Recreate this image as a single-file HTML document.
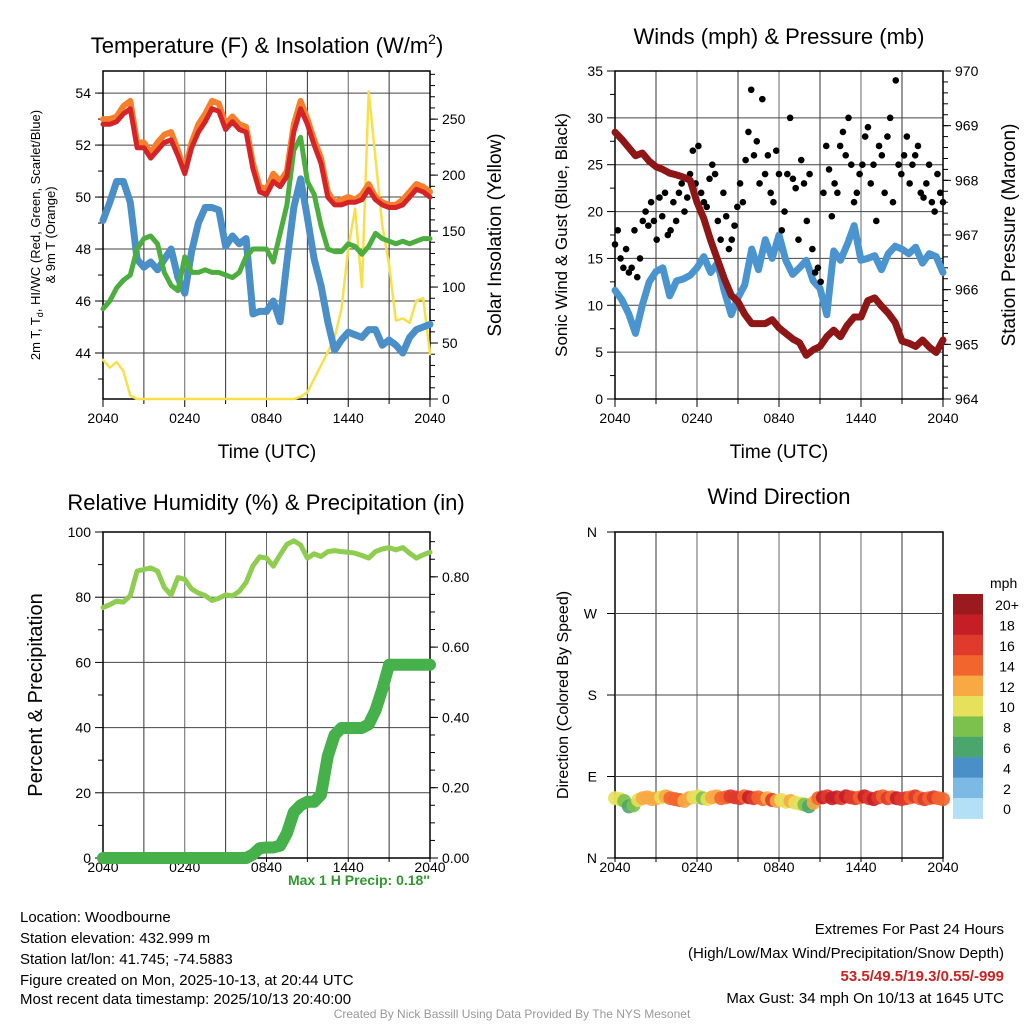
<!DOCTYPE html>
<html><head><meta charset="utf-8">
<style>
html,body{margin:0;padding:0;background:#fff;}
svg{display:block;font-family:"Liberation Sans",Arial,sans-serif;}
</style></head>
<body>
<svg id="c" width="1024" height="1024" viewBox="0 0 1024 1024" xmlns="http://www.w3.org/2000/svg">
<rect width="1024" height="1024" fill="#fff"/>
<text x="267" y="53" font-size="22" text-anchor="middle">Temperature (F) &amp; Insolation (W/m<tspan dy="-9" font-size="14">2</tspan><tspan dy="9">)</tspan></text>
<text x="779" y="44" font-size="22" text-anchor="middle">Winds (mph) &amp; Pressure (mb)</text>
<text x="266" y="510" font-size="22" text-anchor="middle">Relative Humidity (%) &amp; Precipitation (in)</text>
<text x="779" y="504" font-size="22" text-anchor="middle">Wind Direction</text>

<text transform="translate(40,235) rotate(-90)" font-size="13" text-anchor="middle">2m T, T<tspan dy="3" font-size="9">d</tspan><tspan dy="-3">, HI/WC (Red, Green, Scarlet/Blue)</tspan></text>
<text transform="translate(55,235) rotate(-90)" font-size="13" text-anchor="middle">&amp; 9m T (Orange)</text>
<text transform="translate(501,235) rotate(-90)" font-size="19" text-anchor="middle">Solar Insolation (Yellow)</text>
<text transform="translate(567,235) rotate(-90)" font-size="17" text-anchor="middle">Sonic Wind &amp; Gust (Blue, Black)</text>
<text transform="translate(1015,235) rotate(-90)" font-size="19" text-anchor="middle">Station Pressure (Maroon)</text>
<text transform="translate(42,695) rotate(-90)" font-size="20" text-anchor="middle">Percent &amp; Precipitation</text>
<text transform="translate(568,695) rotate(-90)" font-size="16" text-anchor="middle">Direction (Colored By Speed)</text>
<text x="267" y="458" font-size="19" text-anchor="middle">Time (UTC)</text>
<text x="779" y="458" font-size="19" text-anchor="middle">Time (UTC)</text>

<text x="430" y="885" font-size="14" font-weight="bold" fill="#2e9a2e" text-anchor="end">Max 1 H Precip: 0.18''</text>
<g font-size="15">
<text x="20" y="922">Location: Woodbourne</text>
<text x="20" y="943">Station elevation: 432.999 m</text>
<text x="20" y="964">Station lat/lon: 41.745; -74.5883</text>
<text x="20" y="985">Figure created on Mon, 2025-10-13, at 20:44 UTC</text>
<text x="20" y="1004">Most recent data timestamp: 2025/10/13 20:40:00</text>
</g>
<g font-size="15" text-anchor="end">
<text x="1004" y="934">Extremes For Past 24 Hours</text>
<text x="1004" y="958">(High/Low/Max Wind/Precipitation/Snow Depth)</text>
<text x="1004" y="981" font-weight="bold" fill="#cc2222">53.5/49.5/19.3/0.55/-999</text>
<text x="1004" y="1003">Max Gust: 34 mph On 10/13 at 1645 UTC</text>
</g>
<text x="512" y="1018" font-size="12" fill="#999" text-anchor="middle">Created By Nick Bassill Using Data Provided By The NYS Mesonet</text>
<g id="layer"></g>
</svg>
<script>
// ---- data ----
const timeLabels = ["2040","0240","0840","1440","2040"];
const tempRed = [52.8,52.8,52.9,53.2,53.4,51.9,51.9,51.5,51.8,52.1,52.2,51.6,50.9,51.9,52.5,52.9,53.4,53.3,52.6,52.9,52.6,52.5,51.1,50.2,50.1,50.6,50.4,50.8,52.5,53.4,52.8,52.0,51.3,50.0,49.7,49.7,49.8,49.8,49.9,50.3,49.9,49.7,49.6,49.6,49.7,50.0,50.3,50.2,50.0];
const tempOrange = [53.0,53.0,53.1,53.5,53.7,52.1,52.1,51.7,52.1,52.4,52.5,51.8,51.0,52.1,52.8,53.2,53.7,53.6,52.8,53.1,52.8,52.7,51.3,50.4,50.3,50.9,50.6,51.0,52.8,53.7,53.0,52.2,51.5,50.2,49.8,49.9,50.0,49.9,50.1,50.5,50.0,49.8,49.7,49.7,49.9,50.2,50.5,50.4,50.2];
const tempGreen = [45.7,46.0,46.5,46.8,47.0,48.0,48.4,48.5,48.2,47.1,46.6,46.4,47.7,47.1,47.1,47.2,47.1,47.1,47.0,46.9,47.1,47.7,48.0,48.0,48.0,47.5,48.6,49.7,51.8,52.3,50.6,50.1,48.9,48.0,47.9,47.9,48.2,48.1,47.8,48.1,48.6,48.4,48.3,48.2,48.3,48.2,48.3,48.4,48.4];
const tempBlue = [49.1,49.8,50.6,50.6,49.8,47.6,47.3,47.5,47.2,47.6,48.0,46.9,46.3,47.9,49.0,49.6,49.6,49.5,48.1,48.5,48.2,48.4,45.5,45.6,45.6,46.0,45.2,47.5,49.6,50.7,49.2,47.6,46.6,45.2,44.1,44.5,44.8,44.7,44.6,44.9,44.9,44.3,44.5,44.3,44.0,44.6,44.9,45.0,45.1];
const solar = [35,28,33,25,3,0,0,0,0,0,0,0,0,0,0,0,0,0,0,0,0,0,0,0,0,0,0,0,0,2,6,18,30,42,55,80,135,170,100,275,215,155,120,70,72,68,88,90,40];
const windSpeed = [11.6,10.6,9.1,7.0,10.0,12.5,13.6,14.0,11.0,12.6,12.8,13.2,14.0,15.2,13.5,14.5,11.5,9.0,10.8,12.2,16.0,13.8,17.0,15.0,17.5,14.8,13.3,14.0,14.8,12.6,11.8,9.0,15.8,14.8,16.5,18.5,14.8,15.0,15.3,13.8,15.5,16.3,16.0,15.5,16.2,14.5,15.5,15.2,13.5];
const windGust = [16.5,18,15,14,16,13.5,14,18,13,15,19,20,18.5,21,19,17,21.5,19.5,22,17.5,18,21,19,22,23,20,21.5,24,26.5,23,27,22,21,20.5,23.5,25,24,19,17,22,19.5,16,17,18.5,20.5,23,21,25.5,28.5,33,26,27.5,23,32,24,26,22,21,26.5,24,18,20,24,30,23.5,22.5,17,25.5,23,19,24,16,13.5,14,12.5,22,27,24.5,19.5,23,22,27,28.5,26,30,25,21,22,24,25,28,29,23,25,19,27,26,22,28,30,21,34,25,24,26,28,23,25,26,27,22,21.5,23,25,21,20,24,22,21];
const pressure = [968.88,968.75,968.6,968.45,968.5,968.35,968.25,968.2,968.13,968.1,968.06,968.0,967.6,967.3,966.9,966.55,966.2,965.9,965.78,965.55,965.38,965.38,965.38,965.45,965.3,965.2,965.1,965.03,964.8,964.9,964.96,965.14,965.26,965.14,965.35,965.5,965.5,965.8,965.85,965.7,965.57,965.4,965.06,965.02,964.96,965.08,964.95,964.85,965.08];
const humidity = [76.8,77.7,78.8,78.5,80.5,88.0,88.5,89.0,88.0,83.0,80.7,86.0,85.5,82.5,81.3,80.5,79.0,79.7,80.7,80.4,81.8,84.5,89.6,92.4,92.0,89.5,93.0,96.2,97.3,96.0,92.0,93.3,92.5,94.0,94.3,94.0,93.8,93.5,92.8,92.0,94.0,94.8,95.2,94.5,95.2,93.5,92.0,93.0,93.8];
const precip = [0,0,0,0,0,0,0,0,0,0,0,0,0,0,0,0,0,0,0,0,0,0,0.01,0.028,0.03,0.03,0.035,0.07,0.13,0.15,0.16,0.16,0.18,0.29,0.35,0.37,0.37,0.37,0.37,0.38,0.42,0.48,0.55,0.55,0.55,0.55,0.55,0.55,0.55];
const windDir = [66,65,63,57,58,64,66,67,65,66,67,68,66,65,64,63,66,67,68,66,65,67,68,66,67,68,67,66,68,67,66,67,65,66,64,63,64,62,63,61,60,59,57,61,66,67,68,66,67,66,68,67,66,67,68,66,65,67,68,66,67,66,65,66,67,68,66,65,66,67,66,65];
const dirSpeed = [11,10,9,7,8,11,12,13,12,12,11,13,14,15,14,12,13,11,10,9,10,12,13,14,15,16,17,16,15,18,16,14,15,13,16,12,11,10,12,11,10,9,7,12,15,18,17,19,18,17,19,16,17,15,18,16,19,17,15,16,14,18,16,17,15,16,14,17,15,16,14,15];
const tempTicks = [44,46,48,50,52,54];
const solarTicks = [0,50,100,150,200,250];
const windTicks = [0,5,10,15,20,25,30,35];
const presTicks = [964,965,966,967,968,969,970];
const rhTicks = [0,20,40,60,80,100];
const prTicks = [0,0.2,0.4,0.6,0.8];
const dirTicks = [0,90,180,270,360];
const dirLabels = ["N","E","S","W","N"];
const speedBins = [0,2,4,6,8,10,12,14,16,18,20];
const speedBinLabels = ["0","2","4","6","8","10","12","14","16","18","20+"];
const speedColors = ["#b3e0f7","#7cb9e4","#4a8fc7","#4aa66c","#7dc14d","#e6e05a","#f8a943","#f2652d","#e03a2c","#c41f27","#9a1a1e"];

// ---- helpers ----
const NS = "http://www.w3.org/2000/svg";
const layer = document.getElementById("layer");
function mk(tag, attrs, parent) {
  const e = document.createElementNS(NS, tag);
  for (const k in attrs) e.setAttribute(k, attrs[k]);
  (parent || layer).appendChild(e);
  return e;
}
function lin(d0, d1, r0, r1) { return v => r0 + (v - d0) / (d1 - d0) * (r1 - r0); }

function panel(name, L, R, T, B, labDy, yLeft, leftTicks, leftMinor, leftFmt, yRight, rightTicks, rightMinor, rightFmt) {
  const g = mk("g", {});
  
  
  for (let k = 0; k <= 8; k++) {
    const x = L + k * (R - L) / 8;
    const ln = mk("line", {x1: x, x2: x, y1: T, y2: B, stroke: k % 2 ? "#333" : "#666", "stroke-width": 1}, g);
    
    
    const tk = mk("line", {x1: x, x2: x, y1: B, y2: B + (labDy > 20 ? (k % 2 ? 5 : 8) : 4), stroke: "#000"}, g);
    
    
  }
  for (let k = 0; k < timeLabels.length; k++) {
    const t = mk("text", {x: L + k * (R - L) / 4, y: B + labDy, "font-size": 14, "text-anchor": "middle"}, g);
    t.textContent = timeLabels[k];
    
    
  }
  leftTicks.forEach(v => {
    const y = yLeft(v);
    if (y > T + 1 && y < B - 1) {
      const gl = mk("line", {x1: L, x2: R, y1: y, y2: y, stroke: "#444"}, g);
      
      
    }
    mk("line", {x1: L - 8, x2: L, y1: y, y2: y, stroke: "#000"}, g);
    const t = mk("text", {x: L - 12, y: y + 5, "font-size": 14, "text-anchor": "end"}, g);
    t.textContent = leftFmt(v);
    
    
  });
  leftMinor.forEach(v => { const y = yLeft(v); if (y >= T && y <= B) mk("line", {x1: L - 5, x2: L, y1: y, y2: y, stroke: "#000"}, g); });
  if (yRight) {
    rightTicks.forEach(v => {
      const y = yRight(v);
      mk("line", {x1: R, x2: R + 8, y1: y, y2: y, stroke: "#000"}, g);
      const t = mk("text", {x: R + 12, y: y + 5, "font-size": 14}, g);
      t.textContent = rightFmt(v);
      
      
    });
    rightMinor.forEach(v => { const y = yRight(v); if (y >= T && y <= B) mk("line", {x1: R, x2: R + 5, y1: y, y2: y, stroke: "#000"}, g); });
  }
  const fr = mk("rect", {x: L, y: T, width: R - L, height: B - T, fill: "none", stroke: "#000", "stroke-width": 1.5}, g);
  
  
  return g;
}
function range(a, b, s) { const o = []; for (let v = a; v <= b + 1e-9; v += s) o.push(+v.toFixed(4)); return o; }
function line(arr, xs, ys, color, w, name) {
  const n = arr.length;
  const pts = arr.map((v, i) => xs(i / (n - 1)).toFixed(1) + "," + ys(v).toFixed(1)).join(" ");
  const p = mk("polyline", {points: pts, fill: "none", stroke: color, "stroke-width": w, "stroke-linejoin": "round", "stroke-linecap": "round"});
  
  
}

// ---- panel 1: temperature ----
const x1 = lin(0, 1, 103, 430);
const yT = lin(42.23, 54.85, 399, 71);
const yS = lin(0, 293, 399, 71);
panel("temperature", 103, 430, 71, 399, 24, yT, tempTicks, range(43, 54, 1), v => v, yS, solarTicks, range(0, 290, 10), v => v);
line(solar, x1, yS, "#f9e04b", 2.5, "solar-insolation-line");
line(tempBlue, x1, yT, "#4a8fc7", 7, "heat-index-wind-chill-line");
line(tempGreen, x1, yT, "#4cae3e", 5, "dewpoint-line");
line(tempOrange, x1, yT, "#f57f2a", 6, "temperature-9m-line");
line(tempRed, x1, yT, "#d42427", 5, "temperature-2m-line");

// ---- panel 2: winds ----
const x2 = lin(0, 1, 615, 943);
const yW = lin(0, 35, 399, 71);
const yP = lin(964, 970, 399, 71);
panel("winds", 615, 943, 71, 399, 24, yW, windTicks, range(2.5, 32.5, 5), v => v, yP, presTicks, range(964, 970, 0.2), v => v);
line(windSpeed, x2, yW, "#4a94d0", 7, "sonic-wind-line");
windGust.forEach((v, i) => {
  const c = mk("circle", {cx: x2(i / (windGust.length - 1)), cy: yW(v), r: 3.3, fill: "#000"});
  
  
});
line(pressure, x2, yP, "#8e1616", 7, "pressure-line");

// ---- panel 3: humidity ----
const yRH = lin(0, 100, 858, 532);
const yPr = lin(0, 0.9275, 858, 532);
panel("humidity", 103, 430, 532, 858, 14, yRH, rhTicks, range(10, 90, 20), v => v, yPr, prTicks, range(0, 0.9, 0.05), v => v.toFixed(2));
line(humidity, x1, yRH, "#8fcd50", 5, "relative-humidity-line");
line(precip, x1, yPr, "#46b04a", 12, "precipitation-line");

// ---- panel 4: wind direction ----
const yD = lin(0, 360, 858, 532);
panel("wind-direction", 615, 943, 532, 858, 14, yD, [], [], v => v, null, [], [], null);
dirTicks.forEach((v, i) => {
  const y = yD(v);
  if (i > 0 && i < 4) mk("line", {x1: 615, x2: 943, y1: y, y2: y, stroke: "#444"});
  mk("line", {x1: 607, x2: 615, y1: y, y2: y, stroke: "#000"});
  const t = mk("text", {x: 597, y: y + 5, "font-size": 14, "text-anchor": "end"});
  t.textContent = dirLabels[i];
  
  
});
function speedColor(s) { let k = 0; for (let j = 0; j < speedBins.length; j++) if (s >= speedBins[j]) k = j; return speedColors[k]; }
windDir.forEach((d, i) => {
  const c = mk("circle", {cx: x2(i / (windDir.length - 1)), cy: yD(d), r: 7, fill: speedColor(dirSpeed[i]), "fill-opacity": 0.9});
  
  
});
// colorbar
const cb = mk("g", {});


const tt = mk("text", {x: 990, y: 588, "font-size": 14}, cb);
tt.textContent = "mph";
const bh = 20.4, cbTop = 594;
speedColors.forEach((col, k) => {
  const j = speedColors.length - 1 - k;
  const r = mk("rect", {x: 953, y: cbTop + k * bh, width: 30, height: bh + 0.5, fill: speedColors[j]}, cb);
  
  
  const t = mk("text", {x: 1007, y: cbTop + k * bh + bh / 2 + 6, "font-size": 14, "text-anchor": "middle"}, cb);
  t.textContent = speedBinLabels[j];
  
  
});
</script>
</body></html>
